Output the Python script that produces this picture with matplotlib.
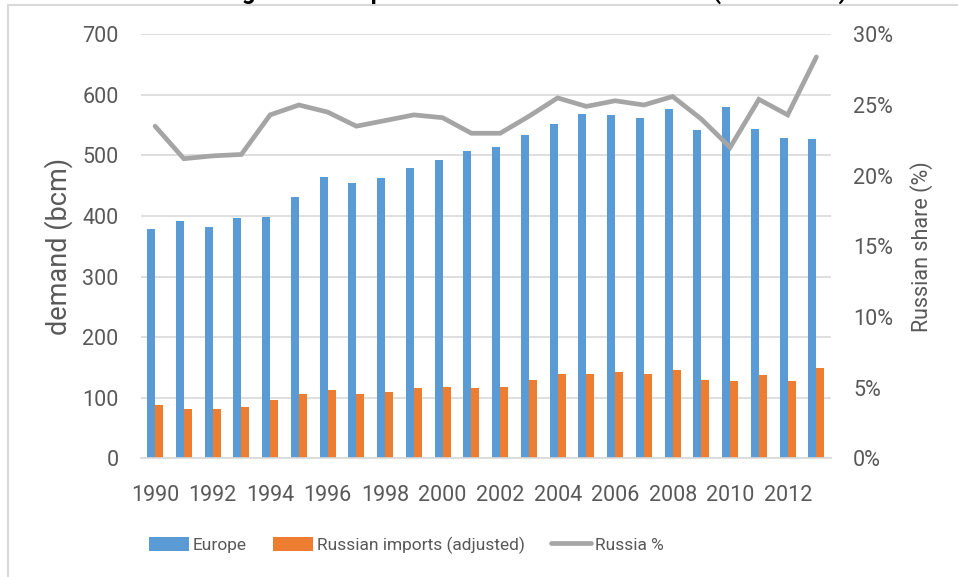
# European gas demand vs Russian imports, bars + share line on a twin axis
import numpy as np
import matplotlib.pyplot as plt
from matplotlib.patches import Rectangle

plt.rcParams['font.family'] = ['Roboto', 'DejaVu Sans']

# Data
years = list(range(1990, 2014))
europe = [378, 391, 382, 396, 399, 431, 464, 455, 463, 480, 492, 508,
          514, 533, 552, 568, 567, 562, 576, 542, 580, 544, 529, 528]
russian_imports = [88, 82, 81, 84, 96, 107, 113, 106, 110, 116, 118, 116,
                   118, 129, 140, 140, 143, 140, 146, 129, 127, 137, 128, 149]
russia_pct = [23.5, 21.2, 21.4, 21.5, 24.3, 25.0, 24.5, 23.5, 23.9, 24.3, 24.1, 23.0,
              23.0, 24.2, 25.5, 24.9, 25.3, 25.0, 25.6, 24.0, 22.0, 25.4, 24.3, 28.4]
year_labels = [str(y) if y % 2 == 0 else '' for y in years]

blue = '#5b9bd5'
orange = '#ed7d31'
grey_line = '#a5a5a5'
text_col = '#595959'
grid_col = '#d9d9d9'

fig = plt.figure(figsize=(9.58, 5.77), dpi=100)
ax = fig.add_axes([0.1469, 0.2057, 0.7203, 0.7348])
ax2 = ax.twinx()

x = np.arange(len(years))
w = 0.28
ax.bar(x - w / 2, europe, w, color=blue, label='Europe', zorder=2)
ax.bar(x + w / 2, russian_imports, w, color=orange, label='Russian imports (adjusted)', zorder=2)
ax2.plot(x, russia_pct, color=grey_line, lw=3.4, solid_capstyle='round',
         solid_joinstyle='miter', label='Russia %', zorder=3)

# left axis
ax.set_xlim(-0.5, len(years) - 0.5)
ax.set_ylim(0, 700)
ax.set_yticks(range(0, 701, 100))
ax.yaxis.grid(True, color=grid_col, lw=1.2, zorder=0)
ax.set_axisbelow(True)
ax.set_xticks(x)
ax.set_xticklabels(year_labels)
ax.tick_params(axis='both', length=0, labelsize=15.5, colors=text_col)
ax.tick_params(axis='y', pad=16)
ax.tick_params(axis='x', pad=19)
ax.set_ylabel('demand (bcm)', fontsize=19.5, color=text_col)
ax.yaxis.set_label_coords(-0.098, 0.5)

# right axis
ax2.set_ylim(0, 30)
ax2.set_yticks(range(0, 31, 5))
ax2.set_yticklabels([f'{v}%' for v in range(0, 31, 5)])
ax2.tick_params(axis='y', length=0, labelsize=15.5, colors=text_col, pad=16)
ax2.set_ylabel('Russian share (%)', fontsize=15.5, color=text_col, labelpad=12)

for a in (ax, ax2):
    for s in a.spines.values():
        s.set_visible(False)
ax.spines['bottom'].set_visible(True)
ax.spines['bottom'].set_color(grid_col)
ax.spines['bottom'].set_linewidth(1.2)

# legend below the plot
h1, l1 = ax.get_legend_handles_labels()
h2, l2 = ax2.get_legend_handles_labels()
fig.legend(h1 + h2, l1 + l2, loc='center', bbox_to_anchor=(0.424, 0.0555), ncol=3,
           frameon=False, fontsize=12.5, labelcolor=text_col, handlelength=2.3,
           handleheight=0.84, handletextpad=0.24, columnspacing=1.5)

# chart frame (runs off the right and bottom edges) and the clipped title
fig.patches.append(Rectangle((8 / 958, -0.1), 1.2, 1 - 5 / 577 + 0.1, transform=fig.transFigure,
                             fill=False, edgecolor=grid_col, lw=1.5))
fig.text(0.524, 1 + 1 / 577, 'Natural gas consumption and Russian market share (1990-2013)',
         ha='center', va='baseline', fontsize=17, fontweight='bold', color='black')

fig.savefig('out.png', dpi=100)
